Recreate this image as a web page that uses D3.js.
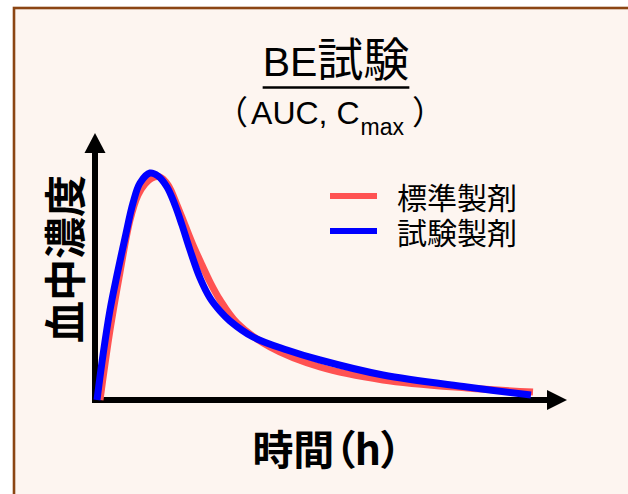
<!DOCTYPE html>
<html>
<head>
<meta charset="utf-8">
<script src="https://cdn.jsdelivr.net/npm/d3@7"></script>
<style>
  html, body { margin: 0; padding: 0; background: #ffffff; }
  svg { display: block; }
  .cjk { font-family: "Noto Sans CJK JP", "Noto Sans", sans-serif; }
  .lat { font-family: "Liberation Sans", Arial, sans-serif; }
</style>
</head>
<body>
<div id="chart"></div>
<script>
// ---- data (time in h, concentration in arbitrary units) ----
const seriesNames = ["標準製剤", "試験製剤"];
const seriesColors = ["#ff5252", "#0000ff"];
const refTime = [0.15, 0.65, 1.15, 1.65, 2.05, 2.4, 2.75, 3.15, 3.55, 4.0, 4.4, 4.8, 5.25, 5.65, 6.15, 7.0, 8.65, 11.15, 14.3, 18.5, 21.8];
const refConc = [0, 28, 51.2, 72, 82, 86.4, 88.8, 89.2, 86, 78, 70, 62, 54, 47.2, 40, 30.8, 21.2, 13.2, 8, 4.8, 3.2];
const testTime = [0, 0.3, 0.65, 1.0, 1.4, 1.8, 2.15, 2.65, 3.05, 3.5, 3.9, 4.25, 4.65, 5.15, 5.65, 6.15, 6.65, 7.8, 9.5, 11.15, 14.3, 18.5, 21.7];
const testConc = [0, 18, 36, 50, 64.8, 78.8, 86.8, 90.8, 89.6, 85.2, 78, 70, 60, 48.8, 40.8, 35.6, 31.6, 25.2, 20, 16, 10, 5.2, 2];
const titleLatin = "BE";
const titleCjk = "試験";
const subtitleParts = ["（", "AUC, C", "max", "）"];
const yLabel = "血中濃度";
const xLabel = "時間（h）";

const W = 628, H = 494;
const svg = d3.select("#chart").append("svg").attr("width", W).attr("height", H);

// panel
svg.append("rect").attr("x", 14).attr("y", 8).attr("width", W + 20).attr("height", H + 20)
  .attr("fill", "#fdf5f0").attr("stroke", "#8b4513").attr("stroke-width", 2.6);

const x = d3.scaleLinear().domain([0, 22]).range([97, 537]);
const y = d3.scaleLinear().domain([0, 90]).range([400, 175]);

// axes with arrows
const axisCol = "#000";
svg.append("line").attr("x1", x(0) - 4).attr("x2", x(22) + 12).attr("y1", y(0)).attr("y2", y(0))
  .attr("stroke", axisCol).attr("stroke-width", 6);
svg.append("path").attr("d", `M${x(22)+10},${y(0)-10} L${x(22)+30},${y(0)} L${x(22)+10},${y(0)+10} Z`).attr("fill", axisCol);
const ax = x(0) - 2;
svg.append("line").attr("x1", ax).attr("x2", ax).attr("y1", y(0) + 3).attr("y2", y(90) - 25)
  .attr("stroke", axisCol).attr("stroke-width", 6);
svg.append("path").attr("d", `M${ax-10.5},${y(90)-22} L${ax},${y(90)-42} L${ax+10.5},${y(90)-22} Z`).attr("fill", axisCol);

// curves
const line = d3.line().x(d => x(d[0])).y(d => y(d[1])).curve(d3.curveCatmullRom.alpha(0.5));
const ref = d3.zip(refTime, refConc);
const test = d3.zip(testTime, testConc);
[ref, test].forEach((s, i) => {
  svg.append("path").attr("d", line(s)).attr("fill", "none")
    .attr("stroke", seriesColors[i]).attr("stroke-width", 7).attr("stroke-linejoin", "round");
});

// legend
seriesNames.forEach((n, i) => {
  const ly = 196 + i * 35;
  svg.append("line").attr("x1", 330).attr("x2", 377).attr("y1", ly).attr("y2", ly)
    .attr("stroke", seriesColors[i]).attr("stroke-width", 6);
  svg.append("text").attr("class", "cjk").attr("x", 397).attr("y", ly)
    .attr("dominant-baseline", "central").attr("font-size", 30).attr("fill", "#000").text(n);
});

// title
const title = svg.append("text").attr("x", 336).attr("y", 76).attr("text-anchor", "middle").attr("fill", "#000");
title.append("tspan").attr("class", "lat").attr("font-size", 41).text(titleLatin);
title.append("tspan").attr("class", "cjk").attr("font-size", 46).text(titleCjk);
const tb = title.node().getBBox();
svg.append("line").attr("x1", tb.x).attr("x2", tb.x + tb.width).attr("y1", 87.5).attr("y2", 87.5)
  .attr("stroke", "#000").attr("stroke-width", 2.5);

// subtitle
const sub = svg.append("text").attr("x", 330).attr("y", 124).attr("text-anchor", "middle").attr("fill", "#000");
sub.append("tspan").attr("class", "cjk").attr("font-size", 33).text(subtitleParts[0]);
sub.append("tspan").attr("class", "lat").attr("font-size", 32).attr("dx", 3).text(subtitleParts[1]);
sub.append("tspan").attr("class", "lat").attr("font-size", 23).attr("dy", 11).attr("dx", 1).text(subtitleParts[2]);
sub.append("tspan").attr("class", "cjk").attr("font-size", 33).attr("dy", -11).attr("dx", 8).text(subtitleParts[3]);

// y label
svg.append("text").attr("class", "cjk").attr("transform", "translate(62,259) rotate(-90)")
  .attr("text-anchor", "middle").attr("dominant-baseline", "central")
  .attr("font-size", 42).attr("font-weight", "bold").attr("fill", "#000").text(yLabel);

// x label
svg.append("text").attr("class", "cjk").attr("x", 327).attr("y", 447)
  .attr("text-anchor", "middle").attr("dominant-baseline", "central")
  .attr("font-size", 41).attr("font-weight", "bold").attr("fill", "#000")
  .style("font-feature-settings", "'palt'").text(xLabel);
</script>
</body>
</html>
